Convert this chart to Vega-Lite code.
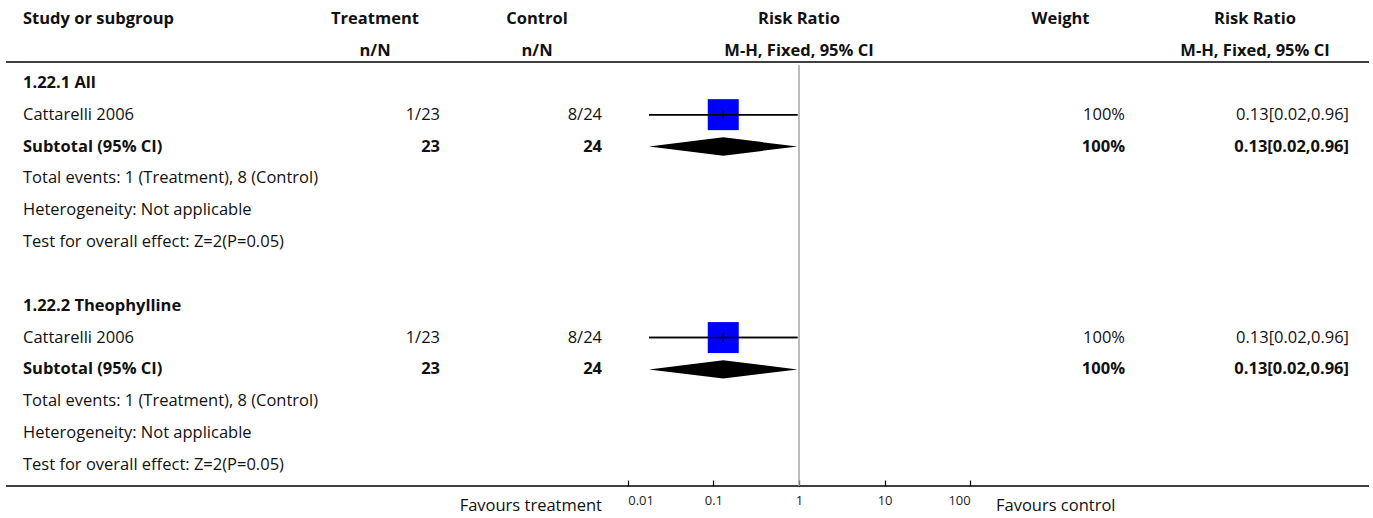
{
  "$schema": "https://vega.github.io/schema/vega-lite/v6.json",
  "padding": {"left": 5, "top": 0, "right": 5, "bottom": 0},
  "bounds": "flush",
  "spacing": 0,
  "config": {
    "view": {"stroke": null},
    "concat": {"spacing": 0},
    "text": {"font": "Open Sans", "fontSize": 16.5, "color": "#111111", "baseline": "middle"}
  },
  "datasets": {
    "cells": [
      {"row": 0, "col": "study", "kind": "head", "bold": true, "text": "Study or subgroup"},
      {"row": 0, "col": "treat", "kind": "head", "bold": true, "text": "Treatment"},
      {"row": 0, "col": "ctrl", "kind": "head", "bold": true, "text": "Control"},
      {"row": 0, "col": "plot", "kind": "head", "bold": true, "text": "Risk Ratio"},
      {"row": 0, "col": "weight", "kind": "head", "bold": true, "text": "Weight"},
      {"row": 0, "col": "rr", "kind": "head", "bold": true, "text": "Risk Ratio"},
      {"row": 1, "col": "treat", "kind": "head", "bold": true, "text": "n/N"},
      {"row": 1, "col": "ctrl", "kind": "head", "bold": true, "text": "n/N"},
      {"row": 1, "col": "plot", "kind": "head", "bold": true, "text": "M-H, Fixed, 95% CI"},
      {"row": 1, "col": "rr", "kind": "head", "bold": true, "text": "M-H, Fixed, 95% CI"},
      {"row": 2, "col": "study", "kind": "group", "bold": true, "text": "1.22.1 All"},
      {"row": 3, "col": "study", "kind": "study", "bold": false, "text": "Cattarelli 2006"},
      {"row": 3, "col": "treat", "kind": "study", "bold": false, "text": "1/23"},
      {"row": 3, "col": "ctrl", "kind": "study", "bold": false, "text": "8/24"},
      {"row": 3, "col": "weight", "kind": "study", "bold": false, "text": "100%"},
      {"row": 3, "col": "rr", "kind": "study", "bold": false, "text": "0.13[0.02,0.96]"},
      {"row": 4, "col": "study", "kind": "sub", "bold": true, "text": "Subtotal (95% CI)"},
      {"row": 4, "col": "treat", "kind": "sub", "bold": true, "text": "23"},
      {"row": 4, "col": "ctrl", "kind": "sub", "bold": true, "text": "24"},
      {"row": 4, "col": "weight", "kind": "sub", "bold": true, "text": "100%"},
      {"row": 4, "col": "rr", "kind": "sub", "bold": true, "text": "0.13[0.02,0.96]"},
      {"row": 5, "col": "study", "kind": "info", "bold": false, "text": "Total events: 1 (Treatment), 8 (Control)"},
      {"row": 6, "col": "study", "kind": "info", "bold": false, "text": "Heterogeneity: Not applicable"},
      {"row": 7, "col": "study", "kind": "info", "bold": false, "text": "Test for overall effect: Z=2(P=0.05)"},
      {"row": 9, "col": "study", "kind": "group", "bold": true, "text": "1.22.2 Theophylline"},
      {"row": 10, "col": "study", "kind": "study", "bold": false, "text": "Cattarelli 2006"},
      {"row": 10, "col": "treat", "kind": "study", "bold": false, "text": "1/23"},
      {"row": 10, "col": "ctrl", "kind": "study", "bold": false, "text": "8/24"},
      {"row": 10, "col": "weight", "kind": "study", "bold": false, "text": "100%"},
      {"row": 10, "col": "rr", "kind": "study", "bold": false, "text": "0.13[0.02,0.96]"},
      {"row": 11, "col": "study", "kind": "sub", "bold": true, "text": "Subtotal (95% CI)"},
      {"row": 11, "col": "treat", "kind": "sub", "bold": true, "text": "23"},
      {"row": 11, "col": "ctrl", "kind": "sub", "bold": true, "text": "24"},
      {"row": 11, "col": "weight", "kind": "sub", "bold": true, "text": "100%"},
      {"row": 11, "col": "rr", "kind": "sub", "bold": true, "text": "0.13[0.02,0.96]"},
      {"row": 12, "col": "study", "kind": "info", "bold": false, "text": "Total events: 1 (Treatment), 8 (Control)"},
      {"row": 13, "col": "study", "kind": "info", "bold": false, "text": "Heterogeneity: Not applicable"},
      {"row": 14, "col": "study", "kind": "info", "bold": false, "text": "Test for overall effect: Z=2(P=0.05)"},
      {"row": 15.3, "col": "ctrl", "kind": "foot", "bold": false, "text": "Favours treatment"},
      {"row": 15.3, "col": "weight", "kind": "foot", "bold": false, "text": "Favours control"}
    ],
    "forest": [
      {"row": 3, "kind": "study", "rr": 0.1304, "lo": 0.0177, "hi": 0.962},
      {"row": 4, "kind": "sub", "rr": 0.1304, "lo": 0.0177, "hi": 0.962},
      {"row": 10, "kind": "study", "rr": 0.1304, "lo": 0.0177, "hi": 0.962},
      {"row": 11, "kind": "sub", "rr": 0.1304, "lo": 0.0177, "hi": 0.962}
    ],
    "one": [{}]
  },
  "data": {"name": "cells"},
  "hconcat": [
    {
      "width": 17, "height": 486,
      "layer": [
        {"data": {"name": "one"}, "mark": {"type": "rule", "color": "#000000", "strokeWidth": 1.5},
         "encoding": {"y": {"datum": 1.347, "type": "quantitative", "scale": {"domain": [-0.6, 14.66], "reverse": true, "nice": false, "zero": false}, "axis": null}}},
        {"data": {"name": "one"}, "mark": {"type": "rule", "color": "#000000", "strokeWidth": 1.5},
         "encoding": {"y": {"datum": 14.66, "type": "quantitative", "scale": {"domain": [-0.6, 14.66], "reverse": true, "nice": false, "zero": false}, "axis": null}}}
      ]
    },
    {
      "width": 287, "height": 486,
      "layer": [
        {"data": {"name": "one"}, "mark": {"type": "rule", "color": "#000000", "strokeWidth": 1.5},
         "encoding": {"y": {"datum": 1.347, "type": "quantitative", "scale": {"domain": [-0.6, 14.66], "reverse": true, "nice": false, "zero": false}, "axis": null}}},
        {"data": {"name": "one"}, "mark": {"type": "rule", "color": "#000000", "strokeWidth": 1.5},
         "encoding": {"y": {"datum": 14.66, "type": "quantitative", "scale": {"domain": [-0.6, 14.66], "reverse": true, "nice": false, "zero": false}, "axis": null}}},
        {"transform": [{"filter": "datum.col == 'study' && !datum.bold"}],
         "mark": {"type": "text", "align": "left"},
         "encoding": {
           "x": {"field": "col", "type": "nominal", "scale": {"type": "point", "padding": 0, "align": 0}, "axis": null},
           "y": {"field": "row", "type": "quantitative", "scale": {"domain": [-0.6, 14.66], "reverse": true, "nice": false, "zero": false}, "axis": null},
           "text": {"field": "text"}}},
        {"transform": [{"filter": "datum.col == 'study' && datum.bold"}],
         "mark": {"type": "text", "align": "left", "fontWeight": "bold"},
         "encoding": {
           "x": {"field": "col", "type": "nominal", "scale": {"type": "point", "padding": 0, "align": 0}, "axis": null},
           "y": {"field": "row", "type": "quantitative", "scale": {"domain": [-0.6, 14.66], "reverse": true, "nice": false, "zero": false}, "axis": null},
           "text": {"field": "text"}}}
      ]
    },
    {
      "width": 130, "height": 486,
      "layer": [
        {"data": {"name": "one"}, "mark": {"type": "rule", "color": "#000000", "strokeWidth": 1.5},
         "encoding": {"y": {"datum": 1.347, "type": "quantitative", "scale": {"domain": [-0.6, 14.66], "reverse": true, "nice": false, "zero": false}, "axis": null}}},
        {"data": {"name": "one"}, "mark": {"type": "rule", "color": "#000000", "strokeWidth": 1.5},
         "encoding": {"y": {"datum": 14.66, "type": "quantitative", "scale": {"domain": [-0.6, 14.66], "reverse": true, "nice": false, "zero": false}, "axis": null}}},
        {"transform": [{"filter": "datum.col == 'treat' && datum.kind == 'head'"}],
         "mark": {"type": "text", "align": "center", "fontWeight": "bold"},
         "encoding": {
           "y": {"field": "row", "type": "quantitative", "scale": {"domain": [-0.6, 14.66], "reverse": true, "nice": false, "zero": false}, "axis": null},
           "text": {"field": "text"}}},
        {"transform": [{"filter": "datum.col == 'treat' && datum.kind == 'study'"}],
         "mark": {"type": "text", "align": "right"},
         "encoding": {
           "x": {"value": "width"},
           "y": {"field": "row", "type": "quantitative", "scale": {"domain": [-0.6, 14.66], "reverse": true, "nice": false, "zero": false}, "axis": null},
           "text": {"field": "text"}}},
        {"transform": [{"filter": "datum.col == 'treat' && datum.kind == 'sub'"}],
         "mark": {"type": "text", "align": "right", "fontWeight": "bold"},
         "encoding": {
           "x": {"value": "width"},
           "y": {"field": "row", "type": "quantitative", "scale": {"domain": [-0.6, 14.66], "reverse": true, "nice": false, "zero": false}, "axis": null},
           "text": {"field": "text"}}}
      ]
    },
    {
      "width": 32, "height": 486,
      "layer": [
        {"data": {"name": "one"}, "mark": {"type": "rule", "color": "#000000", "strokeWidth": 1.5},
         "encoding": {"y": {"datum": 1.347, "type": "quantitative", "scale": {"domain": [-0.6, 14.66], "reverse": true, "nice": false, "zero": false}, "axis": null}}},
        {"data": {"name": "one"}, "mark": {"type": "rule", "color": "#000000", "strokeWidth": 1.5},
         "encoding": {"y": {"datum": 14.66, "type": "quantitative", "scale": {"domain": [-0.6, 14.66], "reverse": true, "nice": false, "zero": false}, "axis": null}}}
      ]
    },
    {
      "width": 130, "height": 486,
      "layer": [
        {"data": {"name": "one"}, "mark": {"type": "rule", "color": "#000000", "strokeWidth": 1.5},
         "encoding": {"y": {"datum": 1.347, "type": "quantitative", "scale": {"domain": [-0.6, 14.66], "reverse": true, "nice": false, "zero": false}, "axis": null}}},
        {"data": {"name": "one"}, "mark": {"type": "rule", "color": "#000000", "strokeWidth": 1.5},
         "encoding": {"y": {"datum": 14.66, "type": "quantitative", "scale": {"domain": [-0.6, 14.66], "reverse": true, "nice": false, "zero": false}, "axis": null}}},
        {"transform": [{"filter": "datum.col == 'ctrl' && datum.kind == 'head'"}],
         "mark": {"type": "text", "align": "center", "fontWeight": "bold"},
         "encoding": {
           "y": {"field": "row", "type": "quantitative", "scale": {"domain": [-0.6, 14.66], "reverse": true, "nice": false, "zero": false}, "axis": null},
           "text": {"field": "text"}}},
        {"transform": [{"filter": "datum.col == 'ctrl' && (datum.kind == 'study' || datum.kind == 'foot')"}],
         "mark": {"type": "text", "align": "right"},
         "encoding": {
           "x": {"value": "width"},
           "y": {"field": "row", "type": "quantitative", "scale": {"domain": [-0.6, 14.66], "reverse": true, "nice": false, "zero": false}, "axis": null},
           "text": {"field": "text"}}},
        {"transform": [{"filter": "datum.col == 'ctrl' && datum.kind == 'sub'"}],
         "mark": {"type": "text", "align": "right", "fontWeight": "bold"},
         "encoding": {
           "x": {"value": "width"},
           "y": {"field": "row", "type": "quantitative", "scale": {"domain": [-0.6, 14.66], "reverse": true, "nice": false, "zero": false}, "axis": null},
           "text": {"field": "text"}}}
      ]
    },
    {
      "width": 394, "height": 486,
      "layer": [
        {"data": {"name": "one"}, "mark": {"type": "rule", "color": "#000000", "strokeWidth": 1.5},
         "encoding": {"y": {"datum": 1.347, "type": "quantitative", "scale": {"domain": [-0.6, 14.66], "reverse": true, "nice": false, "zero": false}, "axis": null}}},
        {"data": {"name": "one"}, "mark": {"type": "rule", "color": "#000000", "strokeWidth": 1.5},
         "encoding": {"y": {"datum": 14.66, "type": "quantitative", "scale": {"domain": [-0.6, 14.66], "reverse": true, "nice": false, "zero": false}, "axis": null}}},
        {"transform": [{"filter": "datum.col == 'plot'"}],
         "mark": {"type": "text", "align": "center", "fontWeight": "bold"},
         "encoding": {
           "y": {"field": "row", "type": "quantitative", "scale": {"domain": [-0.6, 14.66], "reverse": true, "nice": false, "zero": false}, "axis": null},
           "text": {"field": "text"}}},
        {"data": {"name": "one"}, "mark": {"type": "rule", "color": "#a6a6a6", "strokeWidth": 1.5},
         "encoding": {
           "x": {"datum": 1, "type": "quantitative", "scale": {"type": "log", "domain": [0.005, 200], "nice": false},
                 "axis": {"values": [0.01, 0.1, 1, 10, 100], "format": "~g", "domain": false, "grid": false,
                          "tickSize": -6, "tickColor": "#000000", "tickWidth": 1.2, "labelPadding": 14, "labelFlush": 30,
                          "labelFont": "Open Sans", "labelFontSize": 13, "labelColor": "#222222", "title": null}},
           "y": {"datum": 1.44, "type": "quantitative", "scale": {"domain": [-0.6, 14.66], "reverse": true, "nice": false, "zero": false}, "axis": null},
           "y2": {"value": "height"}}},
        {"data": {"name": "forest"}, "transform": [{"filter": "datum.kind == 'study'"}],
         "mark": {"type": "rule", "color": "#000000", "strokeWidth": 1.5},
         "encoding": {
           "x": {"field": "lo", "type": "quantitative"},
           "x2": {"field": "hi"},
           "y": {"field": "row", "type": "quantitative", "scale": {"domain": [-0.6, 14.66], "reverse": true, "nice": false, "zero": false}, "axis": null}}},
        {"data": {"name": "forest"}, "transform": [{"filter": "datum.kind == 'study'"}],
         "mark": {"type": "point", "shape": "square", "filled": true, "size": 961, "color": "#0000ff", "opacity": 1},
         "encoding": {
           "x": {"field": "rr", "type": "quantitative"},
           "y": {"field": "row", "type": "quantitative", "scale": {"domain": [-0.6, 14.66], "reverse": true, "nice": false, "zero": false}, "axis": null}}},
        {"data": {"name": "forest"}, "transform": [{"filter": "datum.kind == 'study'"}],
         "mark": {"type": "rule", "color": "#000000", "strokeWidth": 1.5},
         "encoding": {
           "x": {"field": "lo", "type": "quantitative"},
           "x2": {"field": "hi"},
           "y": {"field": "row", "type": "quantitative", "scale": {"domain": [-0.6, 14.66], "reverse": true, "nice": false, "zero": false}, "axis": null}}},
        {"data": {"name": "forest"}, "transform": [{"filter": "datum.kind == 'study'"}],
         "mark": {"type": "tick", "orient": "vertical", "size": 9, "thickness": 1.5, "color": "#000000", "opacity": 1},
         "encoding": {
           "x": {"field": "rr", "type": "quantitative"},
           "y": {"field": "row", "type": "quantitative", "scale": {"domain": [-0.6, 14.66], "reverse": true, "nice": false, "zero": false}, "axis": null}}},
        {"data": {"name": "forest"}, "transform": [{"filter": "datum.kind == 'sub'"}],
         "mark": {"type": "point", "shape": "M-1,0L0,-0.123L1,0L0,0.123Z", "filled": true, "size": 22080, "color": "#000000", "opacity": 1},
         "encoding": {
           "x": {"field": "rr", "type": "quantitative"},
           "y": {"field": "row", "type": "quantitative", "scale": {"domain": [-0.6, 14.66], "reverse": true, "nice": false, "zero": false}, "axis": null}}}
      ]
    },
    {
      "width": 129, "height": 486,
      "resolve": {"scale": {"x": "independent"}},
      "layer": [
        {"data": {"name": "one"}, "mark": {"type": "rule", "color": "#000000", "strokeWidth": 1.5},
         "encoding": {"y": {"datum": 1.347, "type": "quantitative", "scale": {"domain": [-0.6, 14.66], "reverse": true, "nice": false, "zero": false}, "axis": null}}},
        {"data": {"name": "one"}, "mark": {"type": "rule", "color": "#000000", "strokeWidth": 1.5},
         "encoding": {"y": {"datum": 14.66, "type": "quantitative", "scale": {"domain": [-0.6, 14.66], "reverse": true, "nice": false, "zero": false}, "axis": null}}},
        {"transform": [{"filter": "datum.col == 'weight' && datum.kind == 'head'"}],
         "mark": {"type": "text", "align": "center", "fontWeight": "bold"},
         "encoding": {
           "y": {"field": "row", "type": "quantitative", "scale": {"domain": [-0.6, 14.66], "reverse": true, "nice": false, "zero": false}, "axis": null},
           "text": {"field": "text"}}},
        {"transform": [{"filter": "datum.col == 'weight' && datum.kind == 'study'"}],
         "mark": {"type": "text", "align": "right"},
         "encoding": {
           "x": {"value": "width"},
           "y": {"field": "row", "type": "quantitative", "scale": {"domain": [-0.6, 14.66], "reverse": true, "nice": false, "zero": false}, "axis": null},
           "text": {"field": "text"}}},
        {"transform": [{"filter": "datum.col == 'weight' && datum.kind == 'sub'"}],
         "mark": {"type": "text", "align": "right", "fontWeight": "bold"},
         "encoding": {
           "x": {"value": "width"},
           "y": {"field": "row", "type": "quantitative", "scale": {"domain": [-0.6, 14.66], "reverse": true, "nice": false, "zero": false}, "axis": null},
           "text": {"field": "text"}}},
        {"transform": [{"filter": "datum.col == 'weight' && datum.kind == 'foot'"}],
         "mark": {"type": "text", "align": "left"},
         "encoding": {
           "x": {"field": "col", "type": "nominal", "scale": {"type": "point", "padding": 0, "align": 0}, "axis": null},
           "y": {"field": "row", "type": "quantitative", "scale": {"domain": [-0.6, 14.66], "reverse": true, "nice": false, "zero": false}, "axis": null},
           "text": {"field": "text"}}}
      ]
    },
    {
      "width": 36, "height": 486,
      "layer": [
        {"data": {"name": "one"}, "mark": {"type": "rule", "color": "#000000", "strokeWidth": 1.5},
         "encoding": {"y": {"datum": 1.347, "type": "quantitative", "scale": {"domain": [-0.6, 14.66], "reverse": true, "nice": false, "zero": false}, "axis": null}}},
        {"data": {"name": "one"}, "mark": {"type": "rule", "color": "#000000", "strokeWidth": 1.5},
         "encoding": {"y": {"datum": 14.66, "type": "quantitative", "scale": {"domain": [-0.6, 14.66], "reverse": true, "nice": false, "zero": false}, "axis": null}}}
      ]
    },
    {
      "width": 188, "height": 486,
      "layer": [
        {"data": {"name": "one"}, "mark": {"type": "rule", "color": "#000000", "strokeWidth": 1.5},
         "encoding": {"y": {"datum": 1.347, "type": "quantitative", "scale": {"domain": [-0.6, 14.66], "reverse": true, "nice": false, "zero": false}, "axis": null}}},
        {"data": {"name": "one"}, "mark": {"type": "rule", "color": "#000000", "strokeWidth": 1.5},
         "encoding": {"y": {"datum": 14.66, "type": "quantitative", "scale": {"domain": [-0.6, 14.66], "reverse": true, "nice": false, "zero": false}, "axis": null}}},
        {"transform": [{"filter": "datum.col == 'rr' && datum.kind == 'head'"}],
         "mark": {"type": "text", "align": "center", "fontWeight": "bold"},
         "encoding": {
           "y": {"field": "row", "type": "quantitative", "scale": {"domain": [-0.6, 14.66], "reverse": true, "nice": false, "zero": false}, "axis": null},
           "text": {"field": "text"}}},
        {"transform": [{"filter": "datum.col == 'rr' && datum.kind == 'study'"}],
         "mark": {"type": "text", "align": "right"},
         "encoding": {
           "x": {"value": "width"},
           "y": {"field": "row", "type": "quantitative", "scale": {"domain": [-0.6, 14.66], "reverse": true, "nice": false, "zero": false}, "axis": null},
           "text": {"field": "text"}}},
        {"transform": [{"filter": "datum.col == 'rr' && datum.kind == 'sub'"}],
         "mark": {"type": "text", "align": "right", "fontWeight": "bold"},
         "encoding": {
           "x": {"value": "width"},
           "y": {"field": "row", "type": "quantitative", "scale": {"domain": [-0.6, 14.66], "reverse": true, "nice": false, "zero": false}, "axis": null},
           "text": {"field": "text"}}}
      ]
    },
    {
      "width": 20, "height": 486,
      "layer": [
        {"data": {"name": "one"}, "mark": {"type": "rule", "color": "#000000", "strokeWidth": 1.5},
         "encoding": {"y": {"datum": 1.347, "type": "quantitative", "scale": {"domain": [-0.6, 14.66], "reverse": true, "nice": false, "zero": false}, "axis": null}}},
        {"data": {"name": "one"}, "mark": {"type": "rule", "color": "#000000", "strokeWidth": 1.5},
         "encoding": {"y": {"datum": 14.66, "type": "quantitative", "scale": {"domain": [-0.6, 14.66], "reverse": true, "nice": false, "zero": false}, "axis": null}}}
      ]
    }
  ]
}
